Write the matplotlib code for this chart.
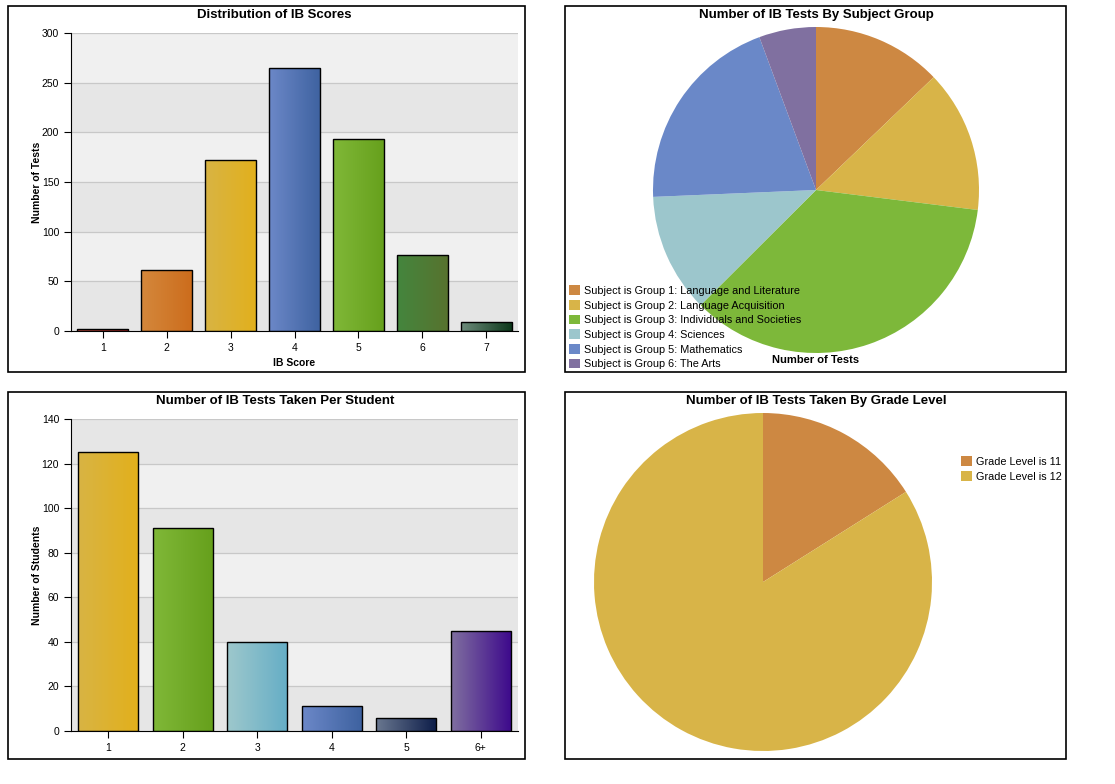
import numpy as np
import matplotlib
matplotlib.use("Agg")
from matplotlib import pyplot as plt
from matplotlib.colors import LinearSegmentedColormap
from matplotlib.patches import Rectangle

plt.rcParams['font.family'] = ['Liberation Sans', 'DejaVu Sans']

W, H = 1115, 784

# data
score_labels = ['1', '2', '3', '4', '5', '6', '7']
score_counts = [2, 61, 172, 265, 193, 77, 9]
score_colors = [('#c85040', '#a02020'), ('#d4883c', '#cc6c1c'), ('#d8b444', '#e2b01c'),
                ('#6c88c8', '#3e62a0'), ('#80b838', '#66a01c'), ('#44863e', '#58722e'),
                ('#6e8c7c', '#0a3618')]

per_student_labels = ['1', '2', '3', '4', '5', '6+']
per_student_counts = [125, 91, 40, 11, 6, 45]
per_student_colors = [('#d8b444', '#e2b01c'), ('#80b838', '#66a01c'), ('#9ec8cc', '#66aec6'),
                      ('#6c88c8', '#3e62a0'), ('#6a7890', '#0e1e4a'), ('#8070a0', '#3e0a8c')]

subject_labels = ['Subject is Group 1: Language and Literature',
                  'Subject is Group 2: Language Acquisition',
                  'Subject is Group 3: Individuals and Societies',
                  'Subject is Group 4: Sciences',
                  'Subject is Group 5: Mathematics',
                  'Subject is Group 6: The Arts']
subject_counts = [100, 110, 277, 92, 156, 44]
subject_colors = ['#cd8842', '#d8b448', '#7db83a', '#9cc6cc', '#6a88c8', '#8070a0']

grade_labels = ['Grade Level is 11', 'Grade Level is 12']
grade_counts = [125, 654]
grade_colors = ['#cd8842', '#d8b448']


def px_axes(fig, x0, y0, x1, y1):
    return fig.add_axes([x0 / W, 1 - y1 / H, (x1 - x0) / W, (y1 - y0) / H])


def panel(fig, x0, y0, x1, y1):
    fig.patches.append(Rectangle((x0 / W, 1 - y1 / H), (x1 - x0) / W, (y1 - y0) / H,
                                 transform=fig.transFigure, fill=False,
                                 edgecolor='black', linewidth=1.2))


def bar_chart(ax, labels, counts, colors, ymax, step, ylabel, xlabel=None):
    x = np.arange(len(labels))
    ticks = np.arange(0, ymax + step, step)
    for i in range(len(ticks) - 1):
        shade = '#e6e6e6' if i % 2 == 0 else '#f0f0f0'
        ax.axhspan(ticks[i], ticks[i + 1], color=shade, zorder=0, linewidth=0)
    for t in ticks[1:]:
        ax.axhline(t, color='#c8c8c8', linewidth=0.9, zorder=1)
    bars = ax.bar(x, counts, width=0.8, color='none', edgecolor='black',
                  linewidth=1.0, zorder=3)
    grad = np.linspace(0, 1, 256).reshape(1, -1)
    for b, (c0, c1) in zip(bars, colors):
        cmap = LinearSegmentedColormap.from_list('g', [c0, c1])
        im = ax.imshow(grad, cmap=cmap, aspect='auto', zorder=2,
                       extent=[b.get_x(), b.get_x() + b.get_width(), 0, b.get_height()])
        im.set_clip_path(b)
    ax.set_xlim(-0.5, len(labels) - 0.5)
    ax.set_ylim(0, ymax)
    ax.set_xticks(x)
    ax.set_xticklabels(labels)
    ax.set_yticks(ticks)
    ax.tick_params(labelsize=7.5, length=5, width=0.8, color='black')
    for s in ['top', 'right']:
        ax.spines[s].set_visible(False)
    ax.set_ylabel(ylabel, fontsize=7.5, fontweight='bold')
    ax.yaxis.set_label_coords(-29 / 447, 0.5)
    if xlabel:
        ax.set_xlabel(xlabel, fontsize=7.5, fontweight='bold', labelpad=4)


fig = plt.figure(figsize=(W / 100, H / 100), dpi=100)
fig.patch.set_facecolor('white')

panel(fig, 8, 6, 525, 372)
panel(fig, 565, 6, 1066, 372)
panel(fig, 8, 392, 525, 759)
panel(fig, 565, 392, 1066, 759)

# top-left: distribution of scores
ax1 = px_axes(fig, 71, 33, 518, 331)
bar_chart(ax1, score_labels, score_counts, score_colors, 300, 50,
          'Number of Tests', 'IB Score')
fig.text(274 / W, 1 - 15 / H, 'Distribution of IB Scores', ha='center', va='center',
         fontsize=9.5, fontweight='bold')

# bottom-left: tests per student
ax3 = px_axes(fig, 71, 419, 518, 731)
bar_chart(ax3, per_student_labels, per_student_counts, per_student_colors, 140, 20,
          'Number of Students')
fig.text(275 / W, 1 - 401 / H, 'Number of IB Tests Taken Per Student', ha='center',
         va='center', fontsize=9.5, fontweight='bold')

# top-right: pie by subject group
ax2 = px_axes(fig, 653, 27, 979, 353)
wedges, _ = ax2.pie(subject_counts, colors=subject_colors, startangle=90,
                    counterclock=False, radius=1.0)
ax2.set_xlim(-1, 1)
ax2.set_ylim(-1, 1)
ax2.set_aspect('equal')
fig.text(816 / W, 1 - 15 / H, 'Number of IB Tests By Subject Group', ha='center',
         va='center', fontsize=9.5, fontweight='bold')
fig.text(816 / W, 1 - 360 / H, 'Number of Tests', ha='center', va='center',
         fontsize=8, fontweight='bold')
fig.legend(wedges, subject_labels, loc='upper left',
           bbox_to_anchor=(565 / W, 1 - 281 / H), frameon=False, fontsize=7.8,
           handlelength=1.0, handleheight=1.0, handletextpad=0.4,
           labelspacing=0.38, borderaxespad=0)

# bottom-right: pie by grade level
ax4 = px_axes(fig, 594, 413, 932, 751)
wedges2, _ = ax4.pie(grade_counts, colors=grade_colors, startangle=90,
                     counterclock=False, radius=1.0)
ax4.set_xlim(-1, 1)
ax4.set_ylim(-1, 1)
ax4.set_aspect('equal')
fig.text(816 / W, 1 - 401 / H, 'Number of IB Tests Taken By Grade Level', ha='center',
         va='center', fontsize=9.5, fontweight='bold')
fig.legend(wedges2, grade_labels, loc='upper left',
           bbox_to_anchor=(957 / W, 1 - 452 / H), frameon=False, fontsize=7.8,
           handlelength=1.0, handleheight=1.0, handletextpad=0.4,
           labelspacing=0.38, borderaxespad=0)

fig.savefig('out.png', dpi=100)
